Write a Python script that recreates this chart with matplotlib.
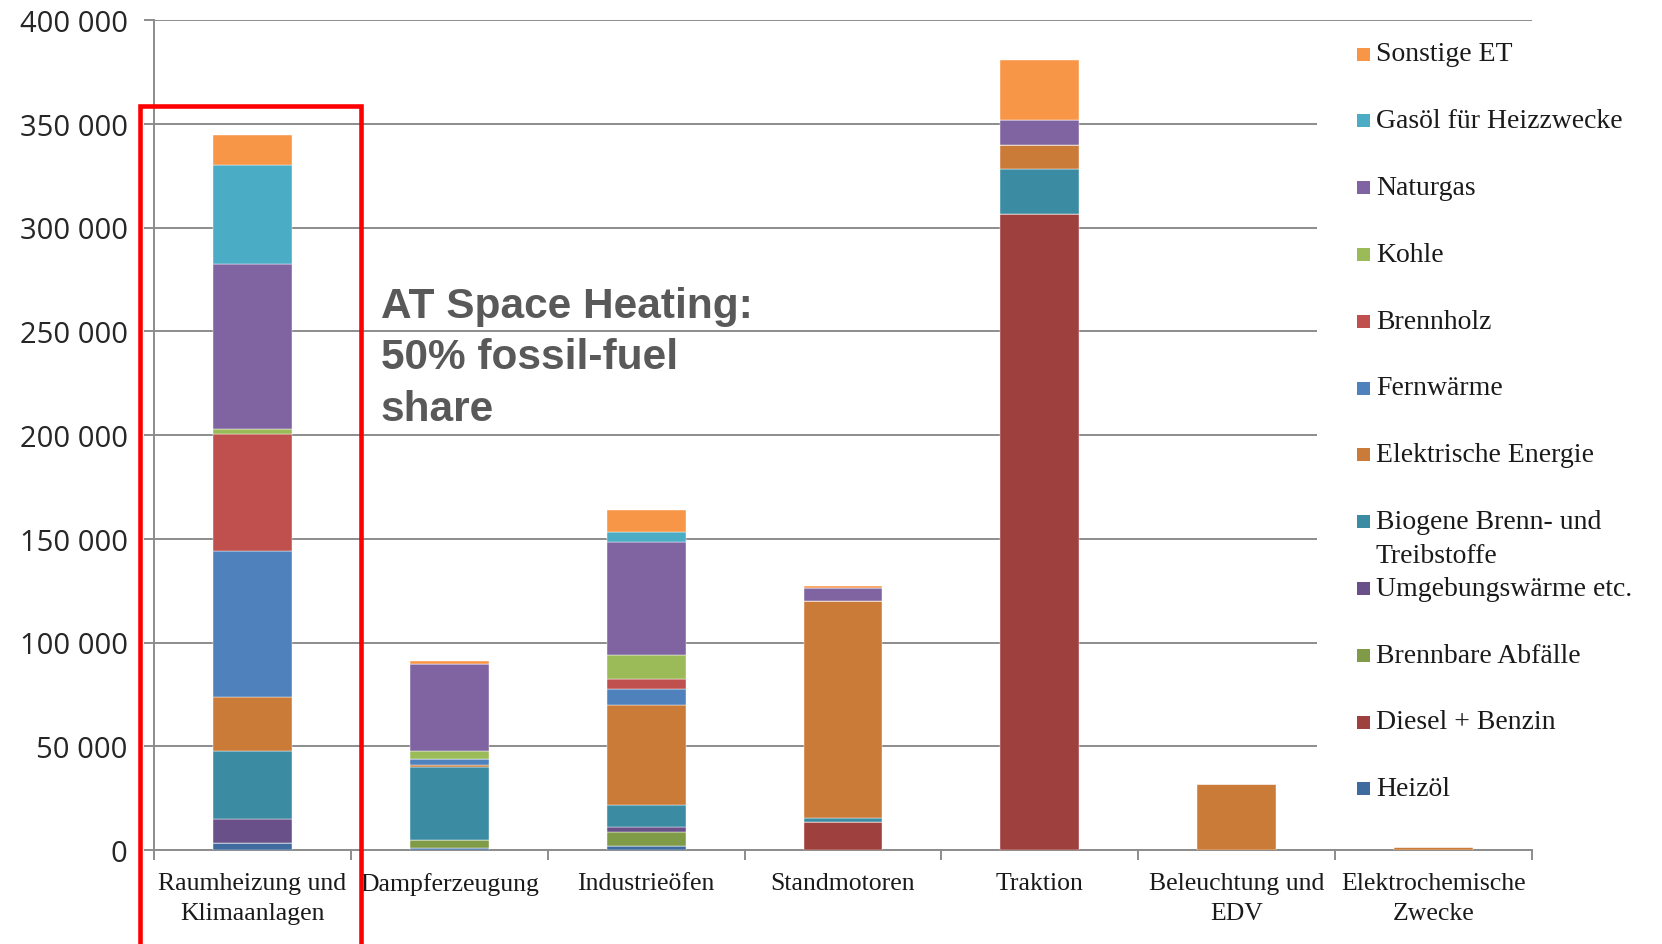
import numpy as np
import matplotlib.pyplot as plt
from matplotlib.patches import Rectangle
from matplotlib.ticker import FuncFormatter, FixedLocator

# Endenergieeinsatz nach Nutzenergiekategorie (TJ), Österreich
categories = ["Raumheizung und\nKlimaanlagen", "Dampferzeugung", "Industrieöfen",
              "Standmotoren", "Traktion", "Beleuchtung und\nEDV",
              "Elektrochemische\nZwecke"]

# energy carriers, bottom of the stack first
heizoel      = [3300, 1200, 2100, 0, 0, 0, 0]
diesel       = [0, 0, 0, 13700, 306500, 0, 0]
abfaelle     = [0, 3700, 6800, 0, 0, 0, 0]
umgebung     = [11700, 0, 2100, 0, 0, 0, 0]
biogen       = [32700, 35100, 10500, 1900, 21500, 0, 0]
elektrisch   = [26200, 1200, 48300, 104600, 11600, 31600, 1600]
fernwaerme   = [70200, 2800, 7900, 0, 0, 0, 0]
brennholz    = [56200, 0, 4700, 0, 0, 0, 0]
kohle        = [2800, 3500, 11600, 0, 0, 0, 0]
naturgas     = [79500, 41900, 54400, 5900, 12000, 0, 0]
gasoel       = [47300, 0, 4800, 0, 0, 0, 0]
sonstige     = [14500, 1900, 10700, 1000, 29300, 0, 0]

series = [heizoel, diesel, abfaelle, umgebung, biogen, elektrisch,
          fernwaerme, brennholz, kohle, naturgas, gasoel, sonstige]
labels = ["Heizöl", "Diesel + Benzin", "Brennbare Abfälle", "Umgebungswärme etc.",
          "Biogene Brenn- und\nTreibstoffe", "Elektrische Energie", "Fernwärme",
          "Brennholz", "Kohle", "Naturgas", "Gasöl für Heizzwecke", "Sonstige ET"]
colors = ["#3f6b9f", "#9e403d", "#7f9b48", "#6a5089", "#3b8ba2", "#cb7b38",
          "#4f81bd", "#c0504d", "#9bbb59", "#8064a2", "#4bacc6", "#f79646"]

W, H = 1662, 945
grid_col = "#8c8c8c"

fig = plt.figure(figsize=(W / 100, H / 100), dpi=100)
ax = fig.add_axes([154 / W, 1 - 851 / H, (1532 - 154) / W, (851 - 21) / H])

x = np.arange(len(categories))
bottom = np.zeros(len(categories))
for vals, col, lab in zip(series, colors, labels):
    ax.bar(x, vals, 0.4, bottom=bottom, color=col, label=lab,
           edgecolor="white", linewidth=0.3, zorder=3)
    bottom += np.array(vals)

ax.set_xlim(-0.5, len(categories) - 0.5)
ax.set_ylim(0, 400000)
ax.set_yticks(np.arange(0, 400001, 50000))
ax.yaxis.set_major_formatter(FuncFormatter(lambda v, p: f"{v:,.0f}".replace(",", " ")))
ax.grid(axis="y", color=grid_col, linewidth=1.4, zorder=0)

ax.set_xticks(x)
ax.set_xticklabels(categories, fontfamily="Liberation Serif", fontsize=18.5,
                   color="#1a1a1a", linespacing=1.45)
ax.xaxis.set_minor_locator(FixedLocator(np.arange(-0.5, len(categories), 1.0)))
ax.tick_params(axis="x", which="major", length=0, pad=16)
ax.tick_params(axis="x", which="minor", length=7, width=1.4, color=grid_col)
ax.tick_params(axis="y", length=7, width=1.4, color=grid_col, pad=12,
               labelsize=21, labelcolor="#262626")
for t in ax.get_yticklabels():
    t.set_fontfamily("Open Sans")

for s in ["top", "right"]:
    ax.spines[s].set_visible(False)
for s in ["left", "bottom"]:
    ax.spines[s].set_color(grid_col)
    ax.spines[s].set_linewidth(1.4)

# legend panel on the right, one row per carrier, top entry = top of stack
fig.add_artist(Rectangle((1317 / W, 1 - 822 / H), (W - 1317) / W, (822 - 30) / H,
                         transform=fig.transFigure, facecolor="white",
                         edgecolor="none", zorder=2))
for i, (lab, col) in enumerate(zip(labels[::-1], colors[::-1])):
    yc = 55 + i * 66.8
    fig.add_artist(Rectangle((1357 / W, 1 - (yc + 6.5) / H), 13 / W, 13 / H,
                             transform=fig.transFigure, facecolor=col,
                             edgecolor="none", zorder=3))
    for j, line in enumerate(lab.split("\n")):
        fig.text(1376 / W, 1 - (yc + j * 34) / H, line, fontsize=20,
                 fontfamily="Liberation Serif", color="#1a1a1a",
                 va="center", ha="left", zorder=3)

fig.text(381 / W, 1 - 287 / H, "AT Space Heating:\n50% fossil-fuel\nshare",
         fontsize=30.5, fontweight="bold", fontfamily="Liberation Sans",
         color="#595959", va="top", ha="left", linespacing=1.37)

# highlight around the space heating column
fig.add_artist(Rectangle((140 / W, -0.05), (361 - 140) / W, 1.05 - 107 / H,
                         transform=fig.transFigure, facecolor="none",
                         edgecolor="#ff0000", linewidth=3.3, zorder=4))

fig.savefig("out.png", dpi=100)
